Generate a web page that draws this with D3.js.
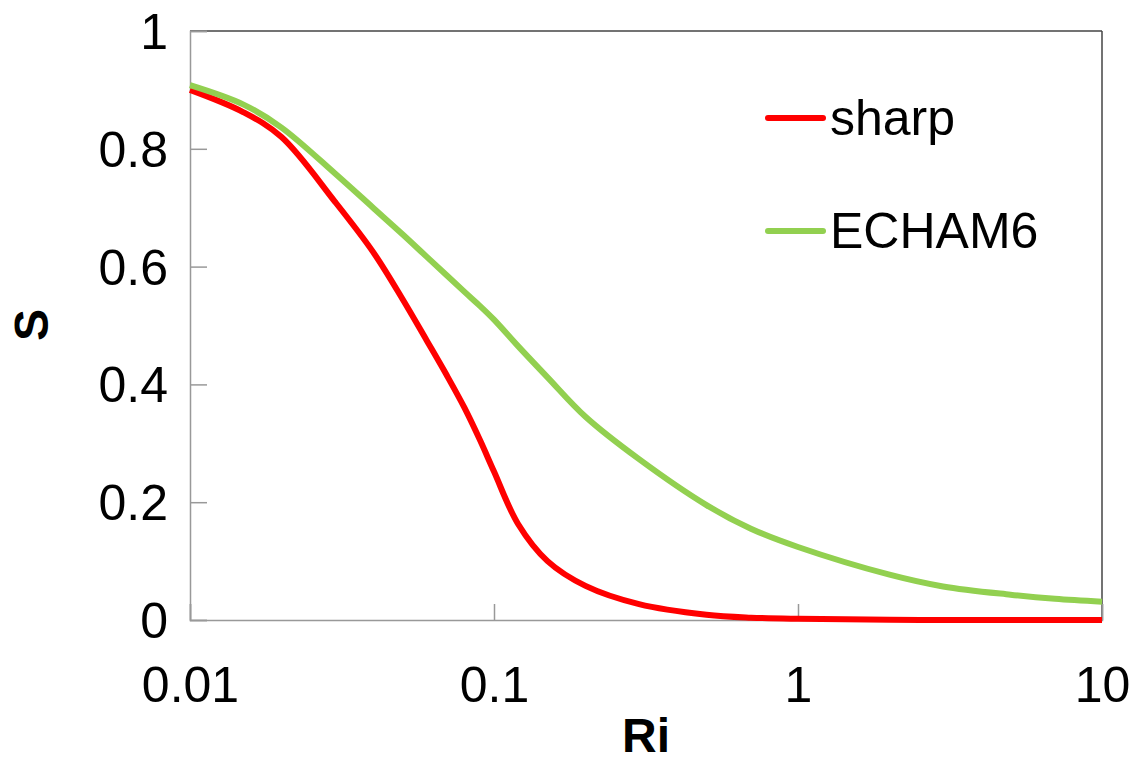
<!DOCTYPE html>
<html lang="en">
<head>
  <meta charset="UTF-8">
  <script src="https://cdn.jsdelivr.net/npm/d3@7/dist/d3.min.js"></script>
  <title>S vs Ri</title>
  <style>
    body { margin: 0; background: #fff; }
    text { font-family: "Liberation Sans", Arial, sans-serif; fill: #000; }
  </style>
</head>
<body>
  <svg width="1142" height="780" id="chart"></svg>
  <script>
    // data
    let ri = [0.01, 0.015, 0.02, 0.03, 0.04, 0.05, 0.06, 0.07, 0.08, 0.09, 0.1, 0.12, 0.15, 0.2, 0.3, 0.5, 0.7, 1, 2, 3, 5, 7, 10];
    let sharp = [0.90, 0.862, 0.82, 0.71, 0.625, 0.545, 0.475, 0.415, 0.36, 0.305, 0.252, 0.163, 0.10, 0.058, 0.027, 0.009, 0.004, 0.002, 0.0005, 0, 0, 0, 0];
    let echam6 = [0.908, 0.875, 0.836, 0.758, 0.70, 0.655, 0.617, 0.585, 0.557, 0.533, 0.51, 0.465, 0.412, 0.345, 0.273, 0.195, 0.155, 0.124, 0.077, 0.057, 0.043, 0.036, 0.031];
    let xTicks = [0.01, 0.1, 1, 10];
    let yTicks = [0, 0.2, 0.4, 0.6, 0.8, 1];

    let series = [
      {name: "sharp", values: sharp, color: "#ff0000"},
      {name: "ECHAM6", values: echam6, color: "#92d050"}
    ];

    let svg = d3.select("#chart");
    let plotLeft = 190, plotRight = 1102, plotTop = 31, plotBottom = 620;

    /* SCALES */
    let x = d3.scaleLog().domain([0.01, 10]).range([plotLeft, plotRight]);
    let y = d3.scaleLinear().domain([0, 1]).range([plotBottom, plotTop]);

    /* FRAME */
    svg.append("line").attr("x1", plotLeft).attr("x2", plotRight).attr("y1", plotTop).attr("y2", plotTop)
      .attr("stroke", "#444").attr("stroke-width", 1.5);
    svg.append("line").attr("x1", plotRight).attr("x2", plotRight).attr("y1", plotTop).attr("y2", plotBottom)
      .attr("stroke", "#444").attr("stroke-width", 1.5);

    /* AXES */
    let axisY = d3.axisLeft(y).tickValues(yTicks).tickSize(-17).tickFormat(d => d === 0 || d === 1 ? d : d.toFixed(1));
    let gy = svg.append("g").attr("transform", `translate(${plotLeft},0)`).call(axisY);
    let axisX = d3.axisBottom(x).tickValues(xTicks).tickSize(-16).tickFormat(d => d);
    let gx = svg.append("g").attr("transform", `translate(0,${plotBottom})`).call(axisX);

    [gy, gx].forEach(g => {
      g.select(".domain").attr("stroke", "#999").attr("stroke-width", 1.5);
      g.selectAll(".tick line").attr("stroke", "#999").attr("stroke-width", 1.5);
      g.selectAll(".tick text").style("font-size", "50px").style("font-family", "Liberation Sans, Arial, sans-serif").attr("fill", "#000");
    });
    gy.selectAll(".tick text").attr("x", -22).attr("dy", "0.35em");
    gx.selectAll(".tick text").attr("y", 0).attr("dy", 0).attr("transform", "translate(0,82)");

    /* LINES */
    let line = d3.line()
      .x((d, i) => x(ri[i]))
      .y(d => y(d))
      .curve(d3.curveCatmullRom.alpha(0.5));

    svg.selectAll(".series")
      .data(series)
      .enter()
      .append("path")
      .attr("d", d => line(d.values))
      .attr("fill", "none")
      .attr("stroke", d => d.color)
      .attr("stroke-width", 6);

    /* LEGEND */
    let legend = svg.selectAll(".legend")
      .data(series)
      .enter()
      .append("g")
      .attr("transform", (d, i) => `translate(768,${118 + i * 113})`);
    legend.append("line")
      .attr("x1", 0).attr("x2", 55)
      .attr("stroke", d => d.color)
      .attr("stroke-width", 6)
      .attr("stroke-linecap", "round");
    legend.append("text")
      .attr("x", 62).attr("y", 17)
      .style("font-size", "50px")
      .text(d => d.name);

    /* AXIS TITLES */
    svg.append("text")
      .attr("transform", "translate(48,325) rotate(-90)")
      .attr("text-anchor", "middle")
      .style("font-size", "48px").style("font-weight", "bold")
      .text("S");
    svg.append("text")
      .attr("x", 646).attr("y", 752)
      .attr("text-anchor", "middle")
      .style("font-size", "48px").style("font-weight", "bold")
      .text("Ri");
  </script>
</body>
</html>
